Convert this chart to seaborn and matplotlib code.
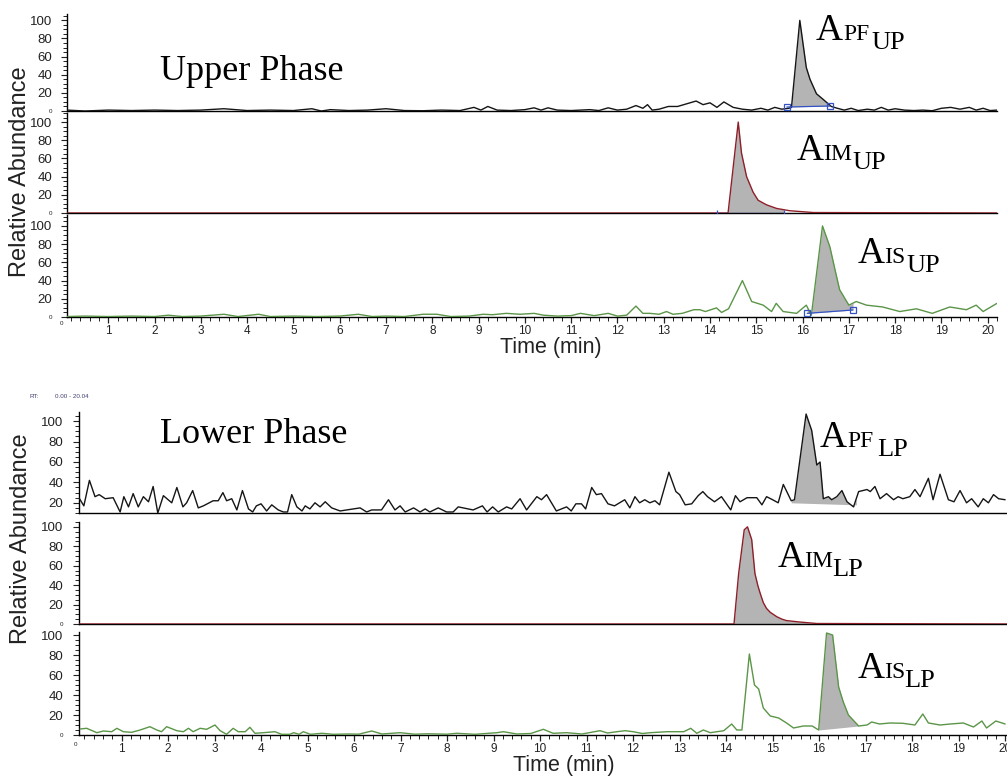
import numpy as np
import pandas as pd
import seaborn as sns
import matplotlib.pyplot as plt
from matplotlib.ticker import MultipleLocator

sns.set_theme(style="ticks")
plt.rcParams['font.family'] = ['Liberation Sans', 'DejaVu Sans']

# ---- traces (time in min, relative abundance) ----
# upper phase, panel 1 (PF)
pf_up_t = [0.1, 0.5, 1.0, 1.5, 2.0, 2.5, 3.0, 3.5, 4.0, 4.5,
           5.0, 5.4, 5.6, 5.8, 6.2, 6.6, 7.0, 7.4, 7.8, 8.2,
           8.6, 8.9, 9.05, 9.2, 9.4, 9.7, 10.0, 10.2, 10.35, 10.5,
           10.7, 11.0, 11.4, 11.6, 11.8, 12.0, 12.2, 12.4, 12.55, 12.65,
           12.75, 12.9, 13.1, 13.3, 13.5, 13.7, 13.85, 14.0, 14.15, 14.3,
           14.5, 14.7, 14.9, 15.1, 15.25, 15.4, 15.55, 15.7, 15.76, 15.94,
           16.08, 16.16, 16.3, 16.44, 16.62, 16.75, 16.9, 17.05, 17.2, 17.4,
           17.55, 17.7, 17.85, 18.0, 18.2, 18.4, 18.6, 18.8, 19.0, 19.2,
           19.4, 19.6, 19.75, 19.9, 20.05, 20.2]
pf_up_v = [1, 0, 1, 0.5, 1, 0.5, 1, 2.5, 0.5, 1,
           0.5, 2.5, 0, 1.5, 0.5, 1, 2.5, 0.5, 0.3, 1,
           0.5, 4, 1, 5, 1, 0.5, 1.5, 3.5, 1, 3.5,
           1, 0.5, 1.5, 0.5, 3.5, 1, 2, 6, 3, 7,
           1, 2, 5, 5, 8, 11, 7, 9, 4, 10,
           4, 2, 1, 3, 1, 4, 2, 3, 4, 100,
           48, 35, 19, 13, 5, 3, 1, 3, 0.5, 2,
           1, 4, 1, 2.5, 1, 0.5, 1, 0.3, 3, 4,
           2, 4, 1, 3, 0.5, 1]

# upper phase, panel 2 (IM)
im_up_t = [0.1, 14.39, 14.61, 14.68, 14.79, 14.93, 15.04, 15.22, 15.44, 15.72, 16.23, 20.2]
im_up_v = [0, 0, 100, 66, 40, 23, 14, 9, 5, 2.5, 0.5, 0]

# upper phase, panel 3 (IS)
is_up_t = [0.1, 0.5, 1.0, 1.5, 2.0, 2.3, 2.6, 3.0, 3.5, 3.8,
           4.25, 4.5, 5.0, 5.5, 6.0, 6.4, 6.7, 7.0, 7.4, 7.8,
           8.1, 8.4, 8.8, 9.1, 9.3, 9.6, 9.9, 10.2, 10.4, 10.7,
           11.0, 11.2, 11.5, 11.8, 12.0, 12.2, 12.4, 12.55, 12.7, 12.9,
           13.06, 13.2, 13.4, 13.65, 13.78, 13.9, 14.14, 14.25, 14.4, 14.7,
           14.9, 15.15, 15.33, 15.43, 15.58, 15.87, 16.08, 16.19, 16.43, 16.59,
           16.7, 16.8, 17.0, 17.16, 17.38, 17.73, 18.1, 18.46, 18.8, 19.18,
           19.54, 19.75, 19.9, 20.2]
is_up_v = [0.5, 1, 0.5, 1, 0.5, 2, 0.5, 1, 3, 0.5,
           3, 0.5, 1, 0.5, 1, 3, 0.5, 1, 0.5, 3,
           3, 0.5, 1, 3, 2.5, 4, 3, 4, 2, 1,
           1.5, 4, 1.5, 4, 1, 2, 12, 4, 4, 3,
           6, 3, 4, 8, 8, 6, 10, 5, 9, 40,
           17, 13, 6, 15, 6, 4, 13, 2, 100, 77,
           52, 30, 13, 17, 13, 11, 6, 9, 4, 11,
           8, 13, 6, 15]

# lower phase, panel 1 (PF)
pf_lp_t = [0.07, 0.19, 0.31, 0.43, 0.52, 0.65, 0.82, 0.97, 1.05, 1.15,
           1.25, 1.36, 1.47, 1.58, 1.68, 1.78, 1.90, 2.08, 2.19, 2.32,
           2.40, 2.53, 2.65, 2.76, 2.97, 3.08, 3.18, 3.26, 3.37, 3.48,
           3.60, 3.73, 3.82, 3.90, 4.00, 4.12, 4.23, 4.37, 4.48, 4.57,
           4.66, 4.77, 4.88, 4.95, 5.05, 5.16, 5.27, 5.38, 5.52, 5.70,
           5.84, 6.13, 6.27, 6.38, 6.59, 6.74, 6.88, 6.99, 7.10, 7.28,
           7.42, 7.53, 7.63, 7.81, 7.99, 8.13, 8.24, 8.56, 8.76, 8.86,
           8.98, 9.10, 9.28, 9.39, 9.57, 9.71, 9.93, 10.03, 10.14, 10.35,
           10.57, 10.67, 10.77, 10.89, 10.98, 11.11, 11.21, 11.32, 11.46, 11.60,
           11.82, 11.93, 12.04, 12.14, 12.25, 12.36, 12.47, 12.57, 12.77, 12.92,
           13.00, 13.12, 13.26, 13.40, 13.50, 13.60, 13.75, 13.90, 14.10, 14.20,
           14.30, 14.45, 14.66, 14.77, 14.87, 15.00, 15.12, 15.23, 15.40, 15.47,
           15.72, 15.84, 15.95, 16.02, 16.09, 16.20, 16.27, 16.38, 16.49, 16.60,
           16.74, 16.85, 17.03, 17.10, 17.20, 17.31, 17.45, 17.60, 17.70, 17.80,
           17.95, 18.06, 18.17, 18.35, 18.45, 18.60, 18.78, 18.90, 19.03, 19.17,
           19.28, 19.42, 19.53, 19.64, 19.75, 19.86, 20.00]
pf_lp_v = [26, 17, 42, 26, 28, 24, 25, 11, 26, 16,
           29, 16, 26, 21, 36, 10, 27, 20, 35, 16,
           20, 32, 15, 17, 22, 22, 30, 22, 24, 13,
           32, 14, 11, 17, 19, 12, 18, 13, 11, 11,
           28, 16, 12, 17, 14, 20, 16, 21, 15, 12,
           13, 15, 11, 13, 13, 23, 13, 17, 11, 15,
           11, 14, 11, 15, 11, 11, 16, 13, 17, 11,
           16, 11, 16, 14, 24, 13, 26, 23, 28, 12,
           16, 12, 19, 19, 14, 35, 28, 29, 19, 17,
           23, 15, 26, 20, 23, 20, 22, 18, 50, 31,
           28, 18, 19, 27, 31, 26, 21, 26, 13, 27,
           21, 25, 25, 18, 26, 23, 20, 38, 22, 23,
           107, 91, 57, 60, 24, 26, 23, 26, 32, 21,
           16, 31, 33, 31, 36, 24, 29, 23, 26, 24,
           26, 33, 26, 44, 23, 48, 23, 21, 32, 20,
           24, 16, 24, 20, 28, 24, 23]

# lower phase, panel 2 (IM)
im_lp_t = [0.09, 14.17, 14.27, 14.39, 14.46, 14.55, 14.62, 14.68, 14.73, 14.80,
           14.87, 14.95, 15.09, 15.20, 15.30, 15.59, 15.95, 20.04]
im_lp_v = [0, 0, 52, 97, 100, 87, 52, 40, 32, 22,
           16, 12, 7.5, 5, 3.5, 2, 0.5, 0]

# lower phase, panel 3 (IS)
is_lp_t = [0.11, 0.25, 0.47, 0.61, 0.79, 0.90, 1.04, 1.22, 1.40, 1.61,
           1.76, 1.86, 1.97, 2.19, 2.33, 2.44, 2.54, 2.69, 2.83, 3.01,
           3.12, 3.26, 3.40, 3.51, 3.66, 3.76, 3.87, 4.05, 4.30, 4.44,
           4.62, 4.70, 4.82, 4.91, 5.06, 5.31, 5.56, 5.88, 6.10, 6.38,
           6.60, 6.99, 7.30, 7.60, 8.00, 8.21, 8.60, 9.07, 9.21, 9.50,
           9.80, 10.07, 10.28, 10.57, 10.90, 11.29, 11.45, 11.65, 11.83, 12.00,
           12.20, 12.37, 12.73, 13.09, 13.24, 13.37, 13.51, 13.66, 13.95, 14.12,
           14.23, 14.34, 14.50, 14.61, 14.70, 14.80, 14.95, 15.13, 15.30, 15.45,
           15.66, 15.85, 15.99, 16.16, 16.29, 16.42, 16.52, 16.63, 16.77, 16.85,
           17.03, 17.13, 17.30, 17.52, 17.80, 18.06, 18.23, 18.35, 18.60, 18.82,
           19.10, 19.32, 19.50, 19.60, 19.80, 20.00]
is_lp_v = [6, 6.7, 2.3, 4, 3.3, 6.7, 3.3, 2.7, 5, 8.3,
           5, 3.3, 8.3, 4.3, 3.3, 6.7, 3.3, 6.7, 5.7, 10,
           4.3, 0.7, 6.7, 3.3, 3.3, 7.7, 1.7, 2.3, 3.3, 0.7,
           0.7, 2.3, 0.7, 3.3, 0.7, 1.7, 0.7, 1, 0.8, 4,
           1, 2.3, 0.8, 1.2, 0.8, 1.7, 0.7, 2.3, 3.3, 1,
           1.5, 5.7, 1.7, 2.3, 1, 4.3, 2, 3.3, 4.3, 3.3,
           1.5, 2.3, 3.3, 3.3, 6.7, 1.7, 5, 2.3, 4.3, 11,
           5, 5, 81, 50, 46, 27, 19, 17, 12, 7,
           9, 9, 5, 102, 100, 48, 33, 20, 13, 9,
           10, 13, 11, 12, 11.7, 10, 21, 12, 10, 11,
           12, 8, 14, 7, 14, 11]

# integrated peak windows: start, end, baseline at start, baseline at end
pf_up_win = [15.66, 16.59, 4.4, 5.5]
im_up_win = [14.15, 15.6, 0, 0]
is_up_win = [16.10, 17.09, 4.0, 7.7]
pf_lp_win = [15.40, 16.80, 20, 18]
im_lp_win = [14.17, 15.95, 0, 0]
is_lp_win = [15.99, 16.85, 5, 9]

time_ticks = list(range(1, 21))
abund_ticks = [0, 20, 40, 60, 80, 100]

BLACK = '#151515'
RED = '#8e1f28'
GREEN = '#5b9548'
FILL = '#b4b4b4'
BLUE = '#3552c4'
TXT = '#222222'

W, H = 1007, 776
fig = plt.figure(figsize=(W / 100, H / 100), dpi=100)


def px_axes(left, top, right, bottom):
    return fig.add_axes([left / W, 1 - bottom / H, (right - left) / W, (bottom - top) / H])


def ftext(x, y, s, **kw):
    fig.text(x / W, 1 - y / H, s, **kw)


def draw_trace(ax, t, v, color, win, marks=None):
    a, b, ba, bb = win
    t = np.asarray(t, float)
    v = np.asarray(v, float)
    tt = np.concatenate([[a], t[(t > a) & (t < b)], [b]])
    vv = np.interp(tt, t, v)
    base = np.interp(tt, [a, b], [ba, bb])
    ax.fill_between(tt, base, vv, color=FILL, lw=0, zorder=1)
    df = pd.DataFrame({'t': t, 'v': v})
    sns.lineplot(data=df, x='t', y='v', ax=ax, color=color, lw=1.0,
                 estimator=None, sort=False, zorder=3)
    if marks is not None:
        ax.plot([a, b], [ba, bb], color=BLUE, lw=0.9, marker=marks,
                ms=4, mfc='none', mew=0.9, zorder=4)


def style(ax, xlim, ylim, show_x, ypad):
    ax.set_xlim(*xlim)
    ax.set_ylim(*ylim)
    ax.set_xlabel('')
    ax.set_ylabel('')
    ax.patch.set_alpha(0)
    for s in ['top', 'right']:
        ax.spines[s].set_visible(False)
    for s in ['left', 'bottom']:
        ax.spines[s].set_linewidth(1.0)
        ax.spines[s].set_color('black')
    yt = [y for y in abund_ticks if ylim[0] <= y <= ylim[1]]
    ax.set_yticks(yt)
    ax.set_yticklabels([str(y) for y in yt])
    ax.yaxis.set_minor_locator(MultipleLocator(5))
    ax.tick_params(axis='y', which='major', length=4.5, width=0.8, pad=ypad,
                   labelsize=9.5, colors=TXT)
    ax.tick_params(axis='y', which='minor', length=3, width=0.7, colors=TXT)
    # the zero label is printed much smaller in the original
    for lbl in ax.get_yticklabels():
        if lbl.get_text() == '0':
            lbl.set_fontsize(4.5)
    if show_x:
        ax.set_xticks(time_ticks)
        ax.set_xticklabels([str(x) for x in time_ticks])
        ax.xaxis.set_minor_locator(MultipleLocator(0.2))
        ax.tick_params(axis='x', which='major', length=4.5, width=0.9, pad=1,
                       labelsize=8.5, colors=TXT)
        ax.tick_params(axis='x', which='minor', length=3, width=0.7, colors=TXT)
    else:
        ax.tick_params(axis='x', which='both', bottom=False, labelbottom=False)


# ---- upper phase ----
up_x = (0.1, 20.2)
ax1 = px_axes(66.6, 14, 997, 111)
draw_trace(ax1, pf_up_t, pf_up_v, BLACK, pf_up_win, marks='s')
style(ax1, up_x, (0, 107), False, 6)

ax2 = px_axes(66.6, 113, 997, 213)
draw_trace(ax2, im_up_t, im_up_v, RED, im_up_win, marks='|')
style(ax2, up_x, (0, 110), False, 6)

ax3 = px_axes(66.6, 215, 997, 317)
draw_trace(ax3, is_up_t, is_up_v, GREEN, is_up_win, marks='s')
style(ax3, up_x, (0, 112), True, 6)

# ---- lower phase ----
lp_x = (0.09, 20.04)
bx1 = px_axes(79.2, 412, 1007, 513)
draw_trace(bx1, pf_lp_t, pf_lp_v, BLACK, pf_lp_win)
style(bx1, lp_x, (10, 109), False, 7)

bx2 = px_axes(79.2, 522, 1007, 624)
draw_trace(bx2, im_lp_t, im_lp_v, RED, im_lp_win)
style(bx2, lp_x, (0, 105), False, 7)

bx3 = px_axes(79.2, 632, 1007, 735)
draw_trace(bx3, is_lp_t, is_lp_v, GREEN, is_lp_win)
style(bx3, lp_x, (0, 103), True, 7)

# ---- texts ----
ftext(61, 323, '0', fontsize=4.5, color=TXT, ha='center', va='center')
ftext(75, 745, '0', fontsize=4.5, color=TXT, ha='center', va='center')
ftext(20, 172, 'Relative Abundance', rotation=90, fontsize=17, color=TXT,
      ha='center', va='center')
ftext(21, 539, 'Relative Abundance', rotation=90, fontsize=17, color=TXT,
      ha='center', va='center')
ftext(551, 348, 'Time (min)', fontsize=15.5, color=TXT, ha='center', va='center')
ftext(564, 766, 'Time (min)', fontsize=15.5, color=TXT, ha='center', va='center')
ftext(30, 396, 'RT:', fontsize=4.5, color='#404070', va='center')
ftext(55, 396, '0.00 - 20.04', fontsize=4.5, color='#404070', va='center')

serif = ['Liberation Serif', 'DejaVu Serif']
ftext(160, 80, 'Upper Phase', fontsize=26, family=serif, color='black', va='baseline')
ftext(160, 443, 'Lower Phase', fontsize=26, family=serif, color='black', va='baseline')

peak_labels = [
    ('PF', 'UP', 816, 40, 843, 871),
    ('IM', 'UP', 797, 160, 823, 852),
    ('IS', 'UP', 858, 263, 884, 906),
    ('PF', 'LP', 820, 447, 847, 877),
    ('IM', 'LP', 778, 567, 804, 832),
    ('IS', 'LP', 858, 678, 884, 904),
]
for mid, sub, xa, yb, xm, xs in peak_labels:
    ftext(xa, yb, 'A', fontsize=27, family=serif, color='black', va='baseline')
    ftext(xm, yb, mid, fontsize=17, family=serif, color='black', va='baseline')
    ftext(xs, yb + 9, sub, fontsize=19, family=serif, color='black', va='baseline')

fig.savefig('out.png', dpi=100)
